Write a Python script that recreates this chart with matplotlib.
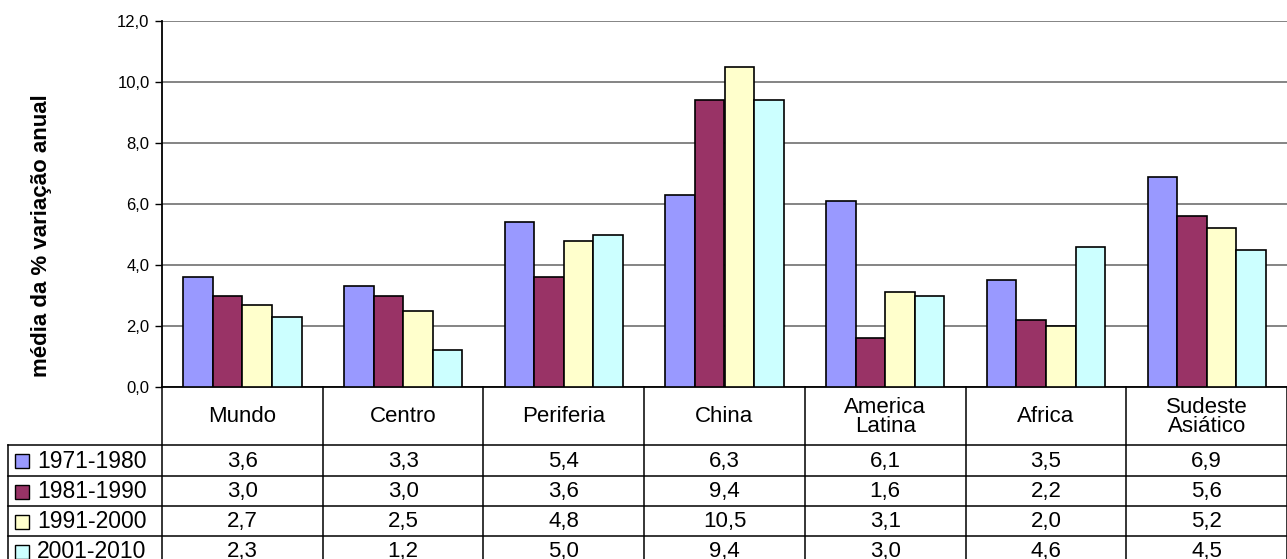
import matplotlib
matplotlib.use('Agg')
import matplotlib.pyplot as plt
import matplotlib.transforms as mtransforms
from matplotlib.patches import Rectangle
from matplotlib.lines import Line2D
import numpy as np

plt.rcParams['font.family'] = ['Liberation Sans', 'DejaVu Sans']

# data
regions = ['Mundo', 'Centro', 'Periferia', 'China', 'America\nLatina', 'Africa', 'Sudeste\nAsiático']
periods = ['1971-1980', '1981-1990', '1991-2000', '2001-2010']
v_1971 = [3.6, 3.3, 5.4, 6.3, 6.1, 3.5, 6.9]
v_1981 = [3.0, 3.0, 3.6, 9.4, 1.6, 2.2, 5.6]
v_1991 = [2.7, 2.5, 4.8, 10.5, 3.1, 2.0, 5.2]
v_2001 = [2.3, 1.2, 5.0, 9.4, 3.0, 4.6, 4.5]
series = [v_1971, v_1981, v_1991, v_2001]
colors = ['#9999FF', '#993366', '#FFFFCC', '#CCFFFF']

W, H = 1287, 559
fig = plt.figure(figsize=(W / 100, H / 100), dpi=100)

# plot area in pixels
left, right, top, bottom = 162, 1287, 21, 387
ax = fig.add_axes([left / W, 1 - bottom / H, (right - left) / W, (bottom - top) / H])

x = np.arange(len(regions))
bw = 0.184
for i, (vals, c) in enumerate(zip(series, colors)):
    ax.bar(x + (i - 1.5) * bw, vals, bw, color=c, edgecolor='black', linewidth=1.2, zorder=3)

ax.set_xlim(-0.5, len(regions) - 0.5)
ax.set_ylim(0, 12)
ax.set_yticks(np.arange(0, 12.1, 2))
ax.set_yticklabels([f'{t:.1f}'.replace('.', ',') for t in np.arange(0, 12.1, 2)], fontsize=12)
ax.tick_params(axis='y', length=5, width=1, direction='out', pad=4)
ax.set_xticks([])
ax.grid(axis='y', color='#707070', linewidth=1.2, zorder=0)
for s in ['top', 'right']:
    ax.spines[s].set_visible(False)
ax.spines['left'].set_linewidth(1.3)
ax.spines['bottom'].set_linewidth(1.3)

fig.text(42 / W, 1 - 236 / H, 'média da % variação anual', rotation=90, ha='center', va='center',
         fontsize=16, fontweight='bold')

# data table under the chart
tr = mtransforms.blended_transform_factory(ax.transData, fig.transFigure)
def fy(p):
    return 1 - p / H

lab_left = -0.5 - (left - 8) / ((right - left) / len(regions))
row_lines = [445, 476, 506, 536]
tab_kw = dict(color='black', linewidth=1.1, transform=tr, clip_on=False)
for b in np.arange(len(regions) + 1) - 0.5:
    fig.add_artist(Line2D([b, b], [fy(bottom), fy(H + 5)], **tab_kw))
fig.add_artist(Line2D([lab_left, lab_left], [fy(445), fy(H + 5)], **tab_kw))
for r in row_lines:
    fig.add_artist(Line2D([lab_left, len(regions) - 0.5], [fy(r), fy(r)], **tab_kw))

for j, name in enumerate(regions):
    fig.text(j, fy(417), name, transform=tr, ha='center', va='center', fontsize=16, linespacing=0.92)

row_centers = [461, 491.5, 521.5, 551.5]
for i, (p, vals, c) in enumerate(zip(periods, series, colors)):
    yc = row_centers[i]
    fig.add_artist(Rectangle((15 / W, fy(yc + 7)), 14 / W, 14 / H, facecolor=c,
                             edgecolor='black', linewidth=1.0, transform=fig.transFigure))
    fig.text(37 / W, fy(yc), p, ha='left', va='center', fontsize=16.5)
    for j, v in enumerate(vals):
        fig.text(j, fy(yc), f'{v:.1f}'.replace('.', ','), transform=tr,
                 ha='center', va='center', fontsize=16)

fig.savefig('out.png', dpi=100)
